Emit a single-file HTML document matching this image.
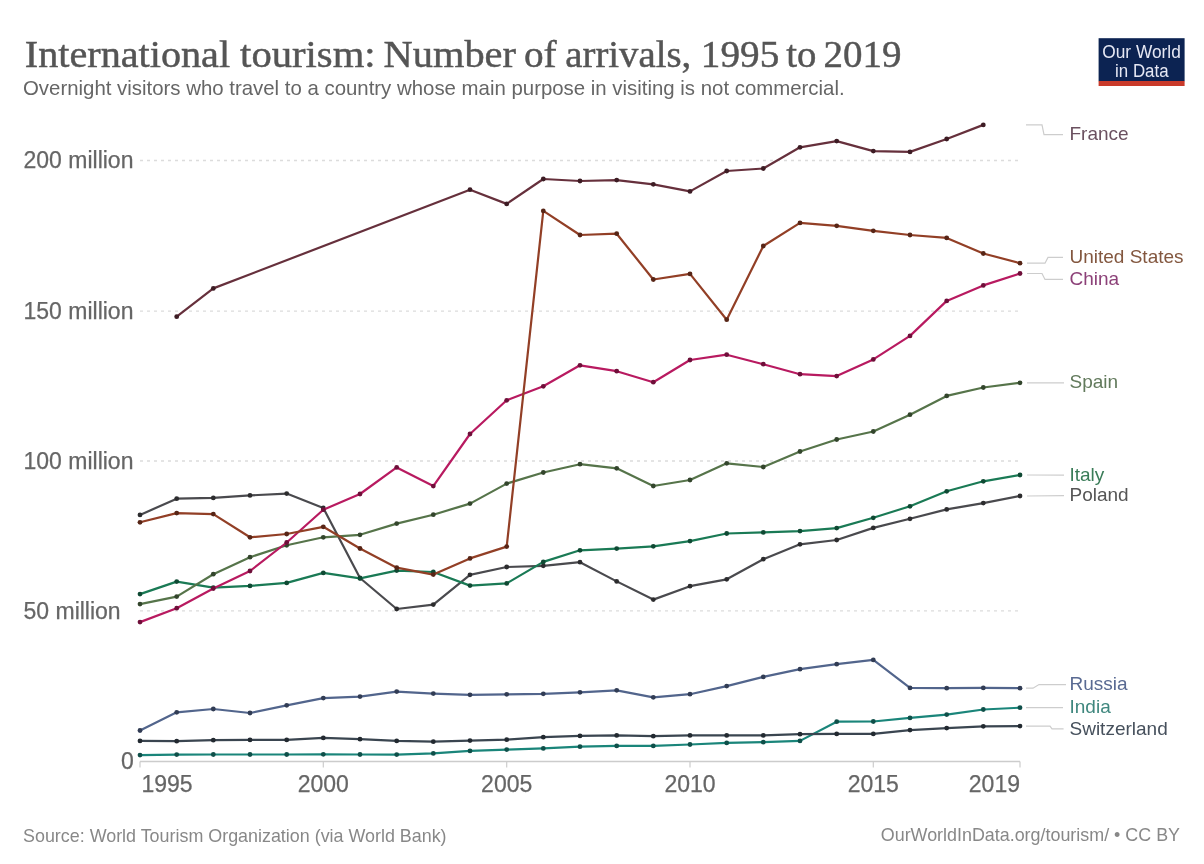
<!DOCTYPE html>
<html><head><meta charset="utf-8">
<style>
html,body{margin:0;padding:0;background:#fff;}
body{width:1204px;height:864px;overflow:hidden;position:relative;}
svg{position:absolute;left:0;top:0;filter:blur(0.3px);}
.title{font-family:"Liberation Serif",serif;font-size:37px;fill:#555;stroke:#555;stroke-width:0.45px;}
.sub{font-family:"Liberation Sans",sans-serif;font-size:20.4px;fill:#666;}
.yl{font-family:"Liberation Sans",sans-serif;font-size:23px;fill:#666;stroke:#666;stroke-width:0.25px;}
.xl{font-family:"Liberation Sans",sans-serif;font-size:23px;fill:#666;stroke:#666;stroke-width:0.25px;}
.lab{font-family:"Liberation Sans",sans-serif;font-size:19px;}
.foot{font-family:"Liberation Sans",sans-serif;font-size:17.9px;fill:#888;}
.logo{font-family:"Liberation Sans",sans-serif;font-size:18px;fill:#e6e8f4;}
</style></head><body>
<svg width="1204" height="864" viewBox="0 0 1204 864">
<text x="24.75" y="66.9" class="title" textLength="205.36" lengthAdjust="spacingAndGlyphs">International</text>
<text x="240.10" y="66.9" class="title" textLength="135.49" lengthAdjust="spacingAndGlyphs">tourism:</text>
<text x="383.64" y="66.9" class="title" textLength="132.32" lengthAdjust="spacingAndGlyphs">Number</text>
<text x="524.01" y="66.9" class="title" textLength="32.69" lengthAdjust="spacingAndGlyphs">of</text>
<text x="565.34" y="66.9" class="title" textLength="125.90" lengthAdjust="spacingAndGlyphs">arrivals,</text>
<text x="700.86" y="66.9" class="title" textLength="78.37" lengthAdjust="spacingAndGlyphs">1995</text>
<text x="786.32" y="66.9" class="title" textLength="30.16" lengthAdjust="spacingAndGlyphs">to</text>
<text x="823.59" y="66.9" class="title" textLength="78.01" lengthAdjust="spacingAndGlyphs">2019</text>

<text x="23" y="95.3" class="sub">Overnight visitors who travel to a country whose main purpose in visiting is not commercial.</text>
<rect x="1098.6" y="38.2" width="86" height="43" fill="#0c2352"/>
<rect x="1098.6" y="81" width="86" height="5" fill="#c93a2a"/>
<text x="1141.5" y="58" class="logo" text-anchor="middle" textLength="78.5" lengthAdjust="spacingAndGlyphs">Our World</text>
<text x="1141.8" y="76.6" class="logo" text-anchor="middle" textLength="53.5" lengthAdjust="spacingAndGlyphs">in Data</text>
<line x1="140" y1="160.5" x2="1020" y2="160.5" stroke="#dcdcdc" stroke-width="1.3" stroke-dasharray="3,4"/>
<text x="23.5" y="168.3" class="yl">200 million</text>
<line x1="140" y1="311.1" x2="1020" y2="311.1" stroke="#dcdcdc" stroke-width="1.3" stroke-dasharray="3,4"/>
<text x="23.5" y="318.9" class="yl">150 million</text>
<line x1="140" y1="461.0" x2="1020" y2="461.0" stroke="#dcdcdc" stroke-width="1.3" stroke-dasharray="3,4"/>
<text x="23.5" y="468.8" class="yl">100 million</text>
<line x1="140" y1="610.8" x2="1020" y2="610.8" stroke="#dcdcdc" stroke-width="1.3" stroke-dasharray="3,4"/>
<text x="23.5" y="618.6" class="yl">50 million</text>
<text x="121" y="769.4" class="yl">0</text>
<line x1="140" y1="761.5" x2="1020" y2="761.5" stroke="#ccc" stroke-width="1.5"/>
<line x1="140.0" y1="761.5" x2="140.0" y2="767.5" stroke="#ccc" stroke-width="1.2"/>
<text x="141.5" y="791.9" class="xl">1995</text>
<line x1="323.3" y1="761.5" x2="323.3" y2="767.5" stroke="#ccc" stroke-width="1.2"/>
<text x="323.3" y="791.9" class="xl" text-anchor="middle">2000</text>
<line x1="506.7" y1="761.5" x2="506.7" y2="767.5" stroke="#ccc" stroke-width="1.2"/>
<text x="506.7" y="791.9" class="xl" text-anchor="middle">2005</text>
<line x1="690.0" y1="761.5" x2="690.0" y2="767.5" stroke="#ccc" stroke-width="1.2"/>
<text x="690.0" y="791.9" class="xl" text-anchor="middle">2010</text>
<line x1="873.3" y1="761.5" x2="873.3" y2="767.5" stroke="#ccc" stroke-width="1.2"/>
<text x="873.3" y="791.9" class="xl" text-anchor="middle">2015</text>
<line x1="1020.0" y1="761.5" x2="1020.0" y2="767.5" stroke="#ccc" stroke-width="1.2"/>
<text x="1020.0" y="791.9" class="xl" text-anchor="end">2019</text>
<path d="M140.0,755.1 L176.7,754.6 L213.3,754.5 L250.0,754.5 L286.7,754.5 L323.3,754.3 L360.0,754.5 L396.7,754.6 L433.3,753.4 L470.0,750.9 L506.7,749.6 L543.3,748.4 L580.0,746.7 L616.7,745.9 L653.3,745.9 L690.0,744.5 L726.7,742.9 L763.3,742.2 L800.0,740.9 L836.7,721.7 L873.3,721.5 L910.0,717.9 L946.7,714.6 L983.3,709.5 L1020.0,707.7" fill="none" stroke="#1a857a" stroke-width="2.2" stroke-linejoin="round"/>
<circle cx="140.0" cy="755.1" r="2.4" fill="#0f4f49"/>
<circle cx="176.7" cy="754.6" r="2.4" fill="#0f4f49"/>
<circle cx="213.3" cy="754.5" r="2.4" fill="#0f4f49"/>
<circle cx="250.0" cy="754.5" r="2.4" fill="#0f4f49"/>
<circle cx="286.7" cy="754.5" r="2.4" fill="#0f4f49"/>
<circle cx="323.3" cy="754.3" r="2.4" fill="#0f4f49"/>
<circle cx="360.0" cy="754.5" r="2.4" fill="#0f4f49"/>
<circle cx="396.7" cy="754.6" r="2.4" fill="#0f4f49"/>
<circle cx="433.3" cy="753.4" r="2.4" fill="#0f4f49"/>
<circle cx="470.0" cy="750.9" r="2.4" fill="#0f4f49"/>
<circle cx="506.7" cy="749.6" r="2.4" fill="#0f4f49"/>
<circle cx="543.3" cy="748.4" r="2.4" fill="#0f4f49"/>
<circle cx="580.0" cy="746.7" r="2.4" fill="#0f4f49"/>
<circle cx="616.7" cy="745.9" r="2.4" fill="#0f4f49"/>
<circle cx="653.3" cy="745.9" r="2.4" fill="#0f4f49"/>
<circle cx="690.0" cy="744.5" r="2.4" fill="#0f4f49"/>
<circle cx="726.7" cy="742.9" r="2.4" fill="#0f4f49"/>
<circle cx="763.3" cy="742.2" r="2.4" fill="#0f4f49"/>
<circle cx="800.0" cy="740.9" r="2.4" fill="#0f4f49"/>
<circle cx="836.7" cy="721.7" r="2.4" fill="#0f4f49"/>
<circle cx="873.3" cy="721.5" r="2.4" fill="#0f4f49"/>
<circle cx="910.0" cy="717.9" r="2.4" fill="#0f4f49"/>
<circle cx="946.7" cy="714.6" r="2.4" fill="#0f4f49"/>
<circle cx="983.3" cy="709.5" r="2.4" fill="#0f4f49"/>
<circle cx="1020.0" cy="707.7" r="2.4" fill="#0f4f49"/>
<path d="M140.0,740.9 L176.7,741.2 L213.3,740.2 L250.0,739.9 L286.7,739.9 L323.3,737.9 L360.0,739.2 L396.7,740.9 L433.3,741.7 L470.0,740.6 L506.7,739.7 L543.3,737.2 L580.0,735.9 L616.7,735.4 L653.3,736.2 L690.0,735.4 L726.7,735.4 L763.3,735.4 L800.0,734.2 L836.7,733.9 L873.3,733.9 L910.0,730.1 L946.7,728.1 L983.3,726.3 L1020.0,726.1" fill="none" stroke="#3a4550" stroke-width="2.2" stroke-linejoin="round"/>
<circle cx="140.0" cy="740.9" r="2.4" fill="#222930"/>
<circle cx="176.7" cy="741.2" r="2.4" fill="#222930"/>
<circle cx="213.3" cy="740.2" r="2.4" fill="#222930"/>
<circle cx="250.0" cy="739.9" r="2.4" fill="#222930"/>
<circle cx="286.7" cy="739.9" r="2.4" fill="#222930"/>
<circle cx="323.3" cy="737.9" r="2.4" fill="#222930"/>
<circle cx="360.0" cy="739.2" r="2.4" fill="#222930"/>
<circle cx="396.7" cy="740.9" r="2.4" fill="#222930"/>
<circle cx="433.3" cy="741.7" r="2.4" fill="#222930"/>
<circle cx="470.0" cy="740.6" r="2.4" fill="#222930"/>
<circle cx="506.7" cy="739.7" r="2.4" fill="#222930"/>
<circle cx="543.3" cy="737.2" r="2.4" fill="#222930"/>
<circle cx="580.0" cy="735.9" r="2.4" fill="#222930"/>
<circle cx="616.7" cy="735.4" r="2.4" fill="#222930"/>
<circle cx="653.3" cy="736.2" r="2.4" fill="#222930"/>
<circle cx="690.0" cy="735.4" r="2.4" fill="#222930"/>
<circle cx="726.7" cy="735.4" r="2.4" fill="#222930"/>
<circle cx="763.3" cy="735.4" r="2.4" fill="#222930"/>
<circle cx="800.0" cy="734.2" r="2.4" fill="#222930"/>
<circle cx="836.7" cy="733.9" r="2.4" fill="#222930"/>
<circle cx="873.3" cy="733.9" r="2.4" fill="#222930"/>
<circle cx="910.0" cy="730.1" r="2.4" fill="#222930"/>
<circle cx="946.7" cy="728.1" r="2.4" fill="#222930"/>
<circle cx="983.3" cy="726.3" r="2.4" fill="#222930"/>
<circle cx="1020.0" cy="726.1" r="2.4" fill="#222930"/>
<path d="M140.0,730.5 L176.7,712.3 L213.3,709.0 L250.0,713.0 L286.7,705.3 L323.3,698.1 L360.0,696.6 L396.7,691.6 L433.3,693.6 L470.0,694.8 L506.7,694.3 L543.3,693.8 L580.0,692.3 L616.7,690.3 L653.3,697.3 L690.0,694.2 L726.7,686.1 L763.3,676.9 L800.0,669.2 L836.7,664.2 L873.3,659.9 L910.0,687.9 L946.7,688.2 L983.3,687.9 L1020.0,688.2" fill="none" stroke="#52658c" stroke-width="2.2" stroke-linejoin="round"/>
<circle cx="140.0" cy="730.5" r="2.4" fill="#313c54"/>
<circle cx="176.7" cy="712.3" r="2.4" fill="#313c54"/>
<circle cx="213.3" cy="709.0" r="2.4" fill="#313c54"/>
<circle cx="250.0" cy="713.0" r="2.4" fill="#313c54"/>
<circle cx="286.7" cy="705.3" r="2.4" fill="#313c54"/>
<circle cx="323.3" cy="698.1" r="2.4" fill="#313c54"/>
<circle cx="360.0" cy="696.6" r="2.4" fill="#313c54"/>
<circle cx="396.7" cy="691.6" r="2.4" fill="#313c54"/>
<circle cx="433.3" cy="693.6" r="2.4" fill="#313c54"/>
<circle cx="470.0" cy="694.8" r="2.4" fill="#313c54"/>
<circle cx="506.7" cy="694.3" r="2.4" fill="#313c54"/>
<circle cx="543.3" cy="693.8" r="2.4" fill="#313c54"/>
<circle cx="580.0" cy="692.3" r="2.4" fill="#313c54"/>
<circle cx="616.7" cy="690.3" r="2.4" fill="#313c54"/>
<circle cx="653.3" cy="697.3" r="2.4" fill="#313c54"/>
<circle cx="690.0" cy="694.2" r="2.4" fill="#313c54"/>
<circle cx="726.7" cy="686.1" r="2.4" fill="#313c54"/>
<circle cx="763.3" cy="676.9" r="2.4" fill="#313c54"/>
<circle cx="800.0" cy="669.2" r="2.4" fill="#313c54"/>
<circle cx="836.7" cy="664.2" r="2.4" fill="#313c54"/>
<circle cx="873.3" cy="659.9" r="2.4" fill="#313c54"/>
<circle cx="910.0" cy="687.9" r="2.4" fill="#313c54"/>
<circle cx="946.7" cy="688.2" r="2.4" fill="#313c54"/>
<circle cx="983.3" cy="687.9" r="2.4" fill="#313c54"/>
<circle cx="1020.0" cy="688.2" r="2.4" fill="#313c54"/>
<path d="M140.0,514.9 L176.7,498.7 L213.3,497.9 L250.0,495.4 L286.7,493.6 L323.3,508.0 L360.0,578.0 L396.7,609.0 L433.3,604.6 L470.0,574.8 L506.7,567.0 L543.3,565.8 L580.0,562.2 L616.7,581.4 L653.3,599.6 L690.0,586.2 L726.7,579.3 L763.3,559.2 L800.0,544.3 L836.7,540.0 L873.3,527.9 L910.0,518.8 L946.7,509.4 L983.3,503.1 L1020.0,496.0" fill="none" stroke="#4a4a4e" stroke-width="2.2" stroke-linejoin="round"/>
<circle cx="140.0" cy="514.9" r="2.4" fill="#2c2c2e"/>
<circle cx="176.7" cy="498.7" r="2.4" fill="#2c2c2e"/>
<circle cx="213.3" cy="497.9" r="2.4" fill="#2c2c2e"/>
<circle cx="250.0" cy="495.4" r="2.4" fill="#2c2c2e"/>
<circle cx="286.7" cy="493.6" r="2.4" fill="#2c2c2e"/>
<circle cx="323.3" cy="508.0" r="2.4" fill="#2c2c2e"/>
<circle cx="360.0" cy="578.0" r="2.4" fill="#2c2c2e"/>
<circle cx="396.7" cy="609.0" r="2.4" fill="#2c2c2e"/>
<circle cx="433.3" cy="604.6" r="2.4" fill="#2c2c2e"/>
<circle cx="470.0" cy="574.8" r="2.4" fill="#2c2c2e"/>
<circle cx="506.7" cy="567.0" r="2.4" fill="#2c2c2e"/>
<circle cx="543.3" cy="565.8" r="2.4" fill="#2c2c2e"/>
<circle cx="580.0" cy="562.2" r="2.4" fill="#2c2c2e"/>
<circle cx="616.7" cy="581.4" r="2.4" fill="#2c2c2e"/>
<circle cx="653.3" cy="599.6" r="2.4" fill="#2c2c2e"/>
<circle cx="690.0" cy="586.2" r="2.4" fill="#2c2c2e"/>
<circle cx="726.7" cy="579.3" r="2.4" fill="#2c2c2e"/>
<circle cx="763.3" cy="559.2" r="2.4" fill="#2c2c2e"/>
<circle cx="800.0" cy="544.3" r="2.4" fill="#2c2c2e"/>
<circle cx="836.7" cy="540.0" r="2.4" fill="#2c2c2e"/>
<circle cx="873.3" cy="527.9" r="2.4" fill="#2c2c2e"/>
<circle cx="910.0" cy="518.8" r="2.4" fill="#2c2c2e"/>
<circle cx="946.7" cy="509.4" r="2.4" fill="#2c2c2e"/>
<circle cx="983.3" cy="503.1" r="2.4" fill="#2c2c2e"/>
<circle cx="1020.0" cy="496.0" r="2.4" fill="#2c2c2e"/>
<path d="M140.0,594.1 L176.7,581.6 L213.3,587.6 L250.0,585.9 L286.7,582.9 L323.3,572.9 L360.0,578.4 L396.7,570.6 L433.3,572.0 L470.0,585.6 L506.7,583.4 L543.3,561.9 L580.0,550.3 L616.7,548.6 L653.3,546.3 L690.0,541.1 L726.7,533.5 L763.3,532.4 L800.0,531.1 L836.7,528.1 L873.3,517.8 L910.0,506.3 L946.7,491.3 L983.3,481.3 L1020.0,475.0" fill="none" stroke="#1a7a55" stroke-width="2.2" stroke-linejoin="round"/>
<circle cx="140.0" cy="594.1" r="2.4" fill="#0f4933"/>
<circle cx="176.7" cy="581.6" r="2.4" fill="#0f4933"/>
<circle cx="213.3" cy="587.6" r="2.4" fill="#0f4933"/>
<circle cx="250.0" cy="585.9" r="2.4" fill="#0f4933"/>
<circle cx="286.7" cy="582.9" r="2.4" fill="#0f4933"/>
<circle cx="323.3" cy="572.9" r="2.4" fill="#0f4933"/>
<circle cx="360.0" cy="578.4" r="2.4" fill="#0f4933"/>
<circle cx="396.7" cy="570.6" r="2.4" fill="#0f4933"/>
<circle cx="433.3" cy="572.0" r="2.4" fill="#0f4933"/>
<circle cx="470.0" cy="585.6" r="2.4" fill="#0f4933"/>
<circle cx="506.7" cy="583.4" r="2.4" fill="#0f4933"/>
<circle cx="543.3" cy="561.9" r="2.4" fill="#0f4933"/>
<circle cx="580.0" cy="550.3" r="2.4" fill="#0f4933"/>
<circle cx="616.7" cy="548.6" r="2.4" fill="#0f4933"/>
<circle cx="653.3" cy="546.3" r="2.4" fill="#0f4933"/>
<circle cx="690.0" cy="541.1" r="2.4" fill="#0f4933"/>
<circle cx="726.7" cy="533.5" r="2.4" fill="#0f4933"/>
<circle cx="763.3" cy="532.4" r="2.4" fill="#0f4933"/>
<circle cx="800.0" cy="531.1" r="2.4" fill="#0f4933"/>
<circle cx="836.7" cy="528.1" r="2.4" fill="#0f4933"/>
<circle cx="873.3" cy="517.8" r="2.4" fill="#0f4933"/>
<circle cx="910.0" cy="506.3" r="2.4" fill="#0f4933"/>
<circle cx="946.7" cy="491.3" r="2.4" fill="#0f4933"/>
<circle cx="983.3" cy="481.3" r="2.4" fill="#0f4933"/>
<circle cx="1020.0" cy="475.0" r="2.4" fill="#0f4933"/>
<path d="M140.0,604.1 L176.7,596.6 L213.3,574.2 L250.0,557.2 L286.7,545.3 L323.3,537.3 L360.0,534.8 L396.7,523.6 L433.3,514.7 L470.0,503.6 L506.7,483.6 L543.3,472.5 L580.0,464.2 L616.7,468.3 L653.3,486.0 L690.0,480.0 L726.7,463.3 L763.3,467.0 L800.0,451.5 L836.7,439.5 L873.3,431.5 L910.0,414.7 L946.7,395.9 L983.3,387.5 L1020.0,382.8" fill="none" stroke="#56744a" stroke-width="2.2" stroke-linejoin="round"/>
<circle cx="140.0" cy="604.1" r="2.4" fill="#33452c"/>
<circle cx="176.7" cy="596.6" r="2.4" fill="#33452c"/>
<circle cx="213.3" cy="574.2" r="2.4" fill="#33452c"/>
<circle cx="250.0" cy="557.2" r="2.4" fill="#33452c"/>
<circle cx="286.7" cy="545.3" r="2.4" fill="#33452c"/>
<circle cx="323.3" cy="537.3" r="2.4" fill="#33452c"/>
<circle cx="360.0" cy="534.8" r="2.4" fill="#33452c"/>
<circle cx="396.7" cy="523.6" r="2.4" fill="#33452c"/>
<circle cx="433.3" cy="514.7" r="2.4" fill="#33452c"/>
<circle cx="470.0" cy="503.6" r="2.4" fill="#33452c"/>
<circle cx="506.7" cy="483.6" r="2.4" fill="#33452c"/>
<circle cx="543.3" cy="472.5" r="2.4" fill="#33452c"/>
<circle cx="580.0" cy="464.2" r="2.4" fill="#33452c"/>
<circle cx="616.7" cy="468.3" r="2.4" fill="#33452c"/>
<circle cx="653.3" cy="486.0" r="2.4" fill="#33452c"/>
<circle cx="690.0" cy="480.0" r="2.4" fill="#33452c"/>
<circle cx="726.7" cy="463.3" r="2.4" fill="#33452c"/>
<circle cx="763.3" cy="467.0" r="2.4" fill="#33452c"/>
<circle cx="800.0" cy="451.5" r="2.4" fill="#33452c"/>
<circle cx="836.7" cy="439.5" r="2.4" fill="#33452c"/>
<circle cx="873.3" cy="431.5" r="2.4" fill="#33452c"/>
<circle cx="910.0" cy="414.7" r="2.4" fill="#33452c"/>
<circle cx="946.7" cy="395.9" r="2.4" fill="#33452c"/>
<circle cx="983.3" cy="387.5" r="2.4" fill="#33452c"/>
<circle cx="1020.0" cy="382.8" r="2.4" fill="#33452c"/>
<path d="M140.0,622.1 L176.7,608.2 L213.3,588.5 L250.0,571.0 L286.7,542.5 L323.3,509.7 L360.0,494.0 L396.7,467.4 L433.3,486.1 L470.0,434.0 L506.7,400.3 L543.3,386.3 L580.0,365.3 L616.7,371.2 L653.3,382.2 L690.0,360.0 L726.7,354.7 L763.3,364.2 L800.0,374.2 L836.7,376.1 L873.3,359.4 L910.0,335.9 L946.7,300.9 L983.3,285.4 L1020.0,273.5" fill="none" stroke="#b81a60" stroke-width="2.2" stroke-linejoin="round"/>
<circle cx="140.0" cy="622.1" r="2.4" fill="#6e0f39"/>
<circle cx="176.7" cy="608.2" r="2.4" fill="#6e0f39"/>
<circle cx="213.3" cy="588.5" r="2.4" fill="#6e0f39"/>
<circle cx="250.0" cy="571.0" r="2.4" fill="#6e0f39"/>
<circle cx="286.7" cy="542.5" r="2.4" fill="#6e0f39"/>
<circle cx="323.3" cy="509.7" r="2.4" fill="#6e0f39"/>
<circle cx="360.0" cy="494.0" r="2.4" fill="#6e0f39"/>
<circle cx="396.7" cy="467.4" r="2.4" fill="#6e0f39"/>
<circle cx="433.3" cy="486.1" r="2.4" fill="#6e0f39"/>
<circle cx="470.0" cy="434.0" r="2.4" fill="#6e0f39"/>
<circle cx="506.7" cy="400.3" r="2.4" fill="#6e0f39"/>
<circle cx="543.3" cy="386.3" r="2.4" fill="#6e0f39"/>
<circle cx="580.0" cy="365.3" r="2.4" fill="#6e0f39"/>
<circle cx="616.7" cy="371.2" r="2.4" fill="#6e0f39"/>
<circle cx="653.3" cy="382.2" r="2.4" fill="#6e0f39"/>
<circle cx="690.0" cy="360.0" r="2.4" fill="#6e0f39"/>
<circle cx="726.7" cy="354.7" r="2.4" fill="#6e0f39"/>
<circle cx="763.3" cy="364.2" r="2.4" fill="#6e0f39"/>
<circle cx="800.0" cy="374.2" r="2.4" fill="#6e0f39"/>
<circle cx="836.7" cy="376.1" r="2.4" fill="#6e0f39"/>
<circle cx="873.3" cy="359.4" r="2.4" fill="#6e0f39"/>
<circle cx="910.0" cy="335.9" r="2.4" fill="#6e0f39"/>
<circle cx="946.7" cy="300.9" r="2.4" fill="#6e0f39"/>
<circle cx="983.3" cy="285.4" r="2.4" fill="#6e0f39"/>
<circle cx="1020.0" cy="273.5" r="2.4" fill="#6e0f39"/>
<path d="M140.0,522.3 L176.7,513.1 L213.3,514.1 L250.0,537.3 L286.7,534.0 L323.3,526.8 L360.0,548.5 L396.7,567.7 L433.3,574.6 L470.0,558.4 L506.7,546.6 L543.3,210.9 L580.0,235.0 L616.7,233.7 L653.3,279.5 L690.0,273.9 L726.7,319.7 L763.3,246.0 L800.0,222.9 L836.7,225.8 L873.3,230.8 L910.0,235.0 L946.7,237.9 L983.3,253.5 L1020.0,263.2" fill="none" stroke="#923f26" stroke-width="2.2" stroke-linejoin="round"/>
<circle cx="140.0" cy="522.3" r="2.4" fill="#572516"/>
<circle cx="176.7" cy="513.1" r="2.4" fill="#572516"/>
<circle cx="213.3" cy="514.1" r="2.4" fill="#572516"/>
<circle cx="250.0" cy="537.3" r="2.4" fill="#572516"/>
<circle cx="286.7" cy="534.0" r="2.4" fill="#572516"/>
<circle cx="323.3" cy="526.8" r="2.4" fill="#572516"/>
<circle cx="360.0" cy="548.5" r="2.4" fill="#572516"/>
<circle cx="396.7" cy="567.7" r="2.4" fill="#572516"/>
<circle cx="433.3" cy="574.6" r="2.4" fill="#572516"/>
<circle cx="470.0" cy="558.4" r="2.4" fill="#572516"/>
<circle cx="506.7" cy="546.6" r="2.4" fill="#572516"/>
<circle cx="543.3" cy="210.9" r="2.4" fill="#572516"/>
<circle cx="580.0" cy="235.0" r="2.4" fill="#572516"/>
<circle cx="616.7" cy="233.7" r="2.4" fill="#572516"/>
<circle cx="653.3" cy="279.5" r="2.4" fill="#572516"/>
<circle cx="690.0" cy="273.9" r="2.4" fill="#572516"/>
<circle cx="726.7" cy="319.7" r="2.4" fill="#572516"/>
<circle cx="763.3" cy="246.0" r="2.4" fill="#572516"/>
<circle cx="800.0" cy="222.9" r="2.4" fill="#572516"/>
<circle cx="836.7" cy="225.8" r="2.4" fill="#572516"/>
<circle cx="873.3" cy="230.8" r="2.4" fill="#572516"/>
<circle cx="910.0" cy="235.0" r="2.4" fill="#572516"/>
<circle cx="946.7" cy="237.9" r="2.4" fill="#572516"/>
<circle cx="983.3" cy="253.5" r="2.4" fill="#572516"/>
<circle cx="1020.0" cy="263.2" r="2.4" fill="#572516"/>
<path d="M176.7,316.7 L213.3,288.4 L470.0,189.7 L506.7,203.9 L543.3,179.0 L580.0,181.0 L616.7,180.1 L653.3,184.3 L690.0,191.4 L726.7,171.0 L763.3,168.5 L800.0,147.3 L836.7,141.1 L873.3,151.1 L910.0,151.9 L946.7,139.0 L983.3,124.9" fill="none" stroke="#66303c" stroke-width="2.2" stroke-linejoin="round"/>
<circle cx="176.7" cy="316.7" r="2.4" fill="#3d1c24"/>
<circle cx="213.3" cy="288.4" r="2.4" fill="#3d1c24"/>
<circle cx="470.0" cy="189.7" r="2.4" fill="#3d1c24"/>
<circle cx="506.7" cy="203.9" r="2.4" fill="#3d1c24"/>
<circle cx="543.3" cy="179.0" r="2.4" fill="#3d1c24"/>
<circle cx="580.0" cy="181.0" r="2.4" fill="#3d1c24"/>
<circle cx="616.7" cy="180.1" r="2.4" fill="#3d1c24"/>
<circle cx="653.3" cy="184.3" r="2.4" fill="#3d1c24"/>
<circle cx="690.0" cy="191.4" r="2.4" fill="#3d1c24"/>
<circle cx="726.7" cy="171.0" r="2.4" fill="#3d1c24"/>
<circle cx="763.3" cy="168.5" r="2.4" fill="#3d1c24"/>
<circle cx="800.0" cy="147.3" r="2.4" fill="#3d1c24"/>
<circle cx="836.7" cy="141.1" r="2.4" fill="#3d1c24"/>
<circle cx="873.3" cy="151.1" r="2.4" fill="#3d1c24"/>
<circle cx="910.0" cy="151.9" r="2.4" fill="#3d1c24"/>
<circle cx="946.7" cy="139.0" r="2.4" fill="#3d1c24"/>
<circle cx="983.3" cy="124.9" r="2.4" fill="#3d1c24"/>
<path d="M1026,124.9 L1042,124.9 L1044,134.7 L1063,134.7" fill="none" stroke="#cdcdcd" stroke-width="1.2"/>
<text x="1069.5" y="140.3" class="lab" fill="#6b5160">France</text>
<path d="M1027,263.2 L1045,263.2 L1048,257.4 L1063,257.4" fill="none" stroke="#cdcdcd" stroke-width="1.2"/>
<text x="1069.5" y="263.0" class="lab" fill="#83573f">United States</text>
<path d="M1027,273.5 L1042,273.5 L1045,279.4 L1063,279.4" fill="none" stroke="#cdcdcd" stroke-width="1.2"/>
<text x="1069.5" y="285.0" class="lab" fill="#8c4178">China</text>
<path d="M1027,382.8 L1064,382.8" fill="none" stroke="#cdcdcd" stroke-width="1.2"/>
<text x="1069.5" y="388.4" class="lab" fill="#627a5c">Spain</text>
<path d="M1027,475.0 L1064,475.2" fill="none" stroke="#cdcdcd" stroke-width="1.2"/>
<text x="1069.5" y="480.8" class="lab" fill="#3a7c58">Italy</text>
<path d="M1027,496.0 L1064,495.7" fill="none" stroke="#cdcdcd" stroke-width="1.2"/>
<text x="1069.5" y="501.3" class="lab" fill="#555555">Poland</text>
<path d="M1026,688.2 L1033,688.2 L1039,684.6 L1066,684.6" fill="none" stroke="#cdcdcd" stroke-width="1.2"/>
<text x="1069.5" y="690.2" class="lab" fill="#596a92">Russia</text>
<path d="M1026,707.7 L1063,707.6" fill="none" stroke="#cdcdcd" stroke-width="1.2"/>
<text x="1069.5" y="713.2" class="lab" fill="#3f877e">India</text>
<path d="M1026,726.1 L1050,726.1 L1052,728.9 L1063.6,728.9" fill="none" stroke="#cdcdcd" stroke-width="1.2"/>
<text x="1069.5" y="734.5" class="lab" fill="#46505c">Switzerland</text>
<text x="23" y="842" class="foot">Source: World Tourism Organization (via World Bank)</text>
<text x="1180" y="841" class="foot" text-anchor="end">OurWorldInData.org/tourism/ • CC BY</text>
</svg>
</body></html>
